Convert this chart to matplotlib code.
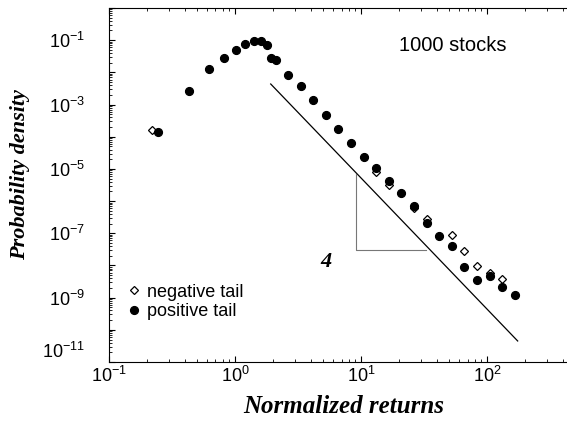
import numpy as np
import matplotlib
matplotlib.use('Agg')
import matplotlib.pyplot as plt
import matplotlib.transforms as mtransforms
from matplotlib.ticker import LogLocator, FuncFormatter, NullFormatter

plt.rcParams['font.family'] = ['Liberation Sans', 'DejaVu Sans']
plt.rcParams['mathtext.default'] = 'regular'

# positive tail (filled circles)
pos_x = [0.245, 0.43, 0.625, 0.82, 1.01, 1.21, 1.41, 1.6, 1.8, 1.93, 2.1,
         2.63, 3.31, 4.17, 5.25, 6.61, 8.32, 10.5, 13.2, 16.6, 20.9, 26.3,
         33.1, 41.7, 52.5, 66.1, 83.2, 105, 132, 166]
pos_y = [1.4e-4, 2.6e-3, 1.24e-2, 2.8e-2, 5.0e-2, 7.8e-2, 9.2e-2, 9.2e-2, 7.2e-2, 2.7e-2, 2.4e-2,
         8.5e-3, 3.7e-3, 1.35e-3, 4.7e-4, 1.74e-4, 6.2e-5, 2.4e-5, 1.05e-5, 4.2e-6, 1.74e-6, 7.1e-7,
         2.1e-7, 8.1e-8, 4.0e-8, 8.9e-9, 3.6e-9, 4.8e-9, 2.2e-9, 1.17e-9]

# negative tail (open diamonds)
neg_x = [0.22, 0.43, 0.625, 0.82, 1.01, 1.21, 1.41, 1.6, 1.8, 1.93, 2.1,
         2.63, 3.31, 4.17, 5.25, 6.61, 8.32, 10.5, 13.2, 16.6, 20.9, 26.3,
         33.1, 41.7, 52.5, 66.1, 83.2, 105, 132]
neg_y = [1.6e-4, 2.6e-3, 1.24e-2, 2.8e-2, 5.0e-2, 7.8e-2, 9.2e-2, 9.2e-2, 7.2e-2, 2.7e-2, 2.4e-2,
         8.5e-3, 3.7e-3, 1.35e-3, 4.7e-4, 1.74e-4, 6.2e-5, 2.4e-5, 8.1e-6, 3.2e-6, 1.74e-6, 6.3e-7,
         2.75e-7, 8.1e-8, 8.7e-8, 2.8e-8, 9.5e-9, 6.0e-9, 3.8e-9]

# power-law guide line (slope -4) and the slope triangle
guide_x = [1.92, 175]
guide_y = [4.35e-3, 4.5e-11]
tri_x = [9.1, 9.1, 33]
tri_y = [7.2e-6, 3.0e-8, 3.0e-8]

fig = plt.figure(figsize=(5.67, 4.22), dpi=100)
ax = fig.add_axes([109 / 567, 1 - 362 / 422, 1 - 109 / 567, (362 - 8) / 422])

ax.plot(guide_x, guide_y, color='black', lw=0.9)
ax.plot(tri_x, tri_y, color='#777777', lw=0.8)
ax.text(5.3, 1.3e-8, '4', family='Liberation Serif', fontweight='bold',
        fontstyle='italic', fontsize=16, ha='center', va='center')

ax.plot(neg_x, neg_y, 'D', ms=4.2, mfc='white', mec='black', mew=0.9,
        ls='none', label='negative tail', zorder=3)
ax.plot(pos_x, pos_y, 'o', ms=5.6, mfc='black', mec='black',
        ls='none', label='positive tail', zorder=4)

ax.set_xscale('log')
ax.set_yscale('log')
ax.set_xlim(0.1, 431)
ax.set_ylim(1e-11, 1)

ax.xaxis.set_major_locator(LogLocator(base=10, numticks=20))
ax.xaxis.set_minor_locator(LogLocator(base=10, subs=np.arange(2, 10), numticks=20))
ax.yaxis.set_major_locator(LogLocator(base=10, numticks=20))
ax.yaxis.set_minor_locator(LogLocator(base=10, subs=np.arange(2, 10), numticks=20))


def ylab(v, pos):
    e = int(round(np.log10(v)))
    if e % 2 == 0:
        return ''
    return r'$10^{%d}$' % e


def xlab(v, pos):
    e = int(round(np.log10(v)))
    return r'$10^{%d}$' % e


ax.yaxis.set_major_formatter(FuncFormatter(ylab))
ax.xaxis.set_major_formatter(FuncFormatter(xlab))
ax.yaxis.set_minor_formatter(NullFormatter())
ax.xaxis.set_minor_formatter(NullFormatter())

ax.tick_params(which='both', direction='in', top=True, right=False)
ax.tick_params(which='major', length=4.5, width=0.8)
ax.tick_params(which='minor', length=2.5, width=0.6)
ax.tick_params(axis='y', which='major', pad=17, labelsize=13)
ax.tick_params(axis='x', which='major', pad=3, labelsize=13)
ax.spines['right'].set_visible(False)

ax.set_xlabel('Normalized returns', family='Liberation Serif', fontweight='bold',
              fontstyle='italic', fontsize=18)
ax.xaxis.set_label_coords(0.513, -0.093)
ax.set_ylabel('Probability density', family='Liberation Serif', fontweight='bold',
              fontstyle='italic', fontsize=16)
ax.yaxis.set_label_coords(-0.172, 0.53)

ax.text(0.75, 0.895, '1000 stocks', fontsize=14.5, ha='center', va='center',
        transform=ax.transAxes)

ax.legend(loc='lower left', bbox_to_anchor=(0.038, 0.118), frameon=False,
          fontsize=13, handlelength=0.8, handletextpad=0.35, labelspacing=0.15,
          borderaxespad=0, borderpad=0)

# lift the lowest y label a little, as in the original
fig.canvas.draw()
for tick in ax.yaxis.get_major_ticks():
    if abs(np.log10(tick.get_loc()) + 11) < 1e-6:
        lab = tick.label1
        lab.set_transform(lab.get_transform() +
                          mtransforms.ScaledTranslation(0, 0.12, fig.dpi_scale_trans))

fig.savefig('out.png', dpi=100)
